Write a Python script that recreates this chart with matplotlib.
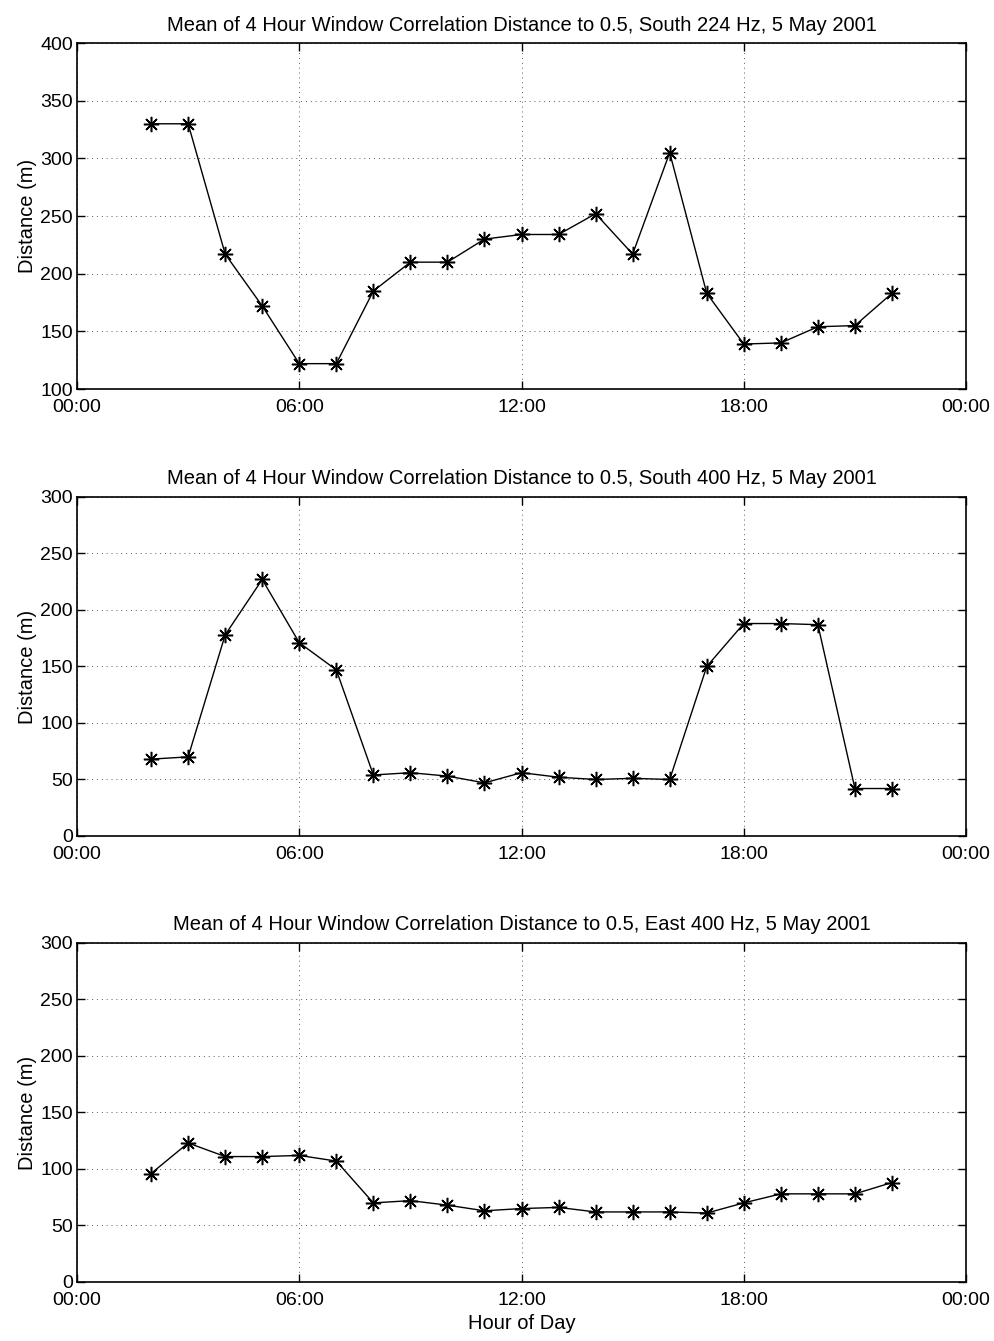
import matplotlib
matplotlib.use("Agg")
import matplotlib.pyplot as plt
import numpy as np

plt.rcParams['font.family'] = ['Liberation Sans', 'DejaVu Sans']

hours = np.arange(2, 23)

# mean correlation distance (m) per 4 hour window
south224 = [330, 330, 217, 172, 122, 122, 185, 210, 210, 230, 234, 234, 252, 217,
            305, 183, 139, 140, 154, 155, 183]
south400 = [68, 70, 178, 227, 171, 147, 54, 56, 53, 47, 56, 52, 50, 51, 50,
            150, 188, 188, 187, 42, 42]
east400 = [96, 123, 111, 111, 112, 107, 70, 72, 68, 63, 65, 66, 62, 62, 62,
           61, 70, 78, 78, 78, 88]

titles = [
    "Mean of 4 Hour Window Correlation Distance to 0.5, South 224 Hz, 5 May 2001",
    "Mean of 4 Hour Window Correlation Distance to 0.5, South 400 Hz, 5 May 2001",
    "Mean of 4 Hour Window Correlation Distance to 0.5, East 400 Hz, 5 May 2001",
]
series = [south224, south400, east400]
ylims = [(100, 400), (0, 300), (0, 300)]

xticks = [0, 6, 12, 18, 24]
xticklabels = ["00:00", "06:00", "12:00", "18:00", "00:00"]

fig = plt.figure(figsize=(9.95, 13.41), dpi=100)
boxes = [
    [0.0774, 0.7099, 0.8935, 0.258],
    [0.0774, 0.3766, 0.8935, 0.2528],
    [0.0774, 0.0440, 0.8935, 0.2528],
]

# matlab-style asterisk: 8-armed star made of strokes
star = (8, 2, 0)

for box, title, ys, yl in zip(boxes, titles, series, ylims):
    ax = fig.add_axes(box)
    ax.plot(hours, ys, color='black', linewidth=1.0, marker=star,
            markersize=11, markeredgewidth=1.1)
    ax.set_xlim(0, 24)
    ax.set_ylim(*yl)
    ax.set_xticks(xticks)
    ax.set_xticklabels(xticklabels)
    ax.set_yticks(np.arange(yl[0], yl[1] + 1, 50))
    ax.tick_params(direction='in', top=True, right=True, length=6,
                   width=1, labelsize=14, pad=3)
    ax.tick_params(axis='x', pad=7.5)
    ax.grid(True, color='0.35', linestyle=(0, (1, 4)), linewidth=0.7)
    for s in ax.spines.values():
        s.set_linewidth(1.2)
    ax.set_title(title, fontsize=14.5, pad=9)
    ax.set_ylabel("Distance (m)", fontsize=14.5, labelpad=2)

ax.set_xlabel("Hour of Day", fontsize=14.5, labelpad=3)

fig.savefig("out.png", dpi=100)
